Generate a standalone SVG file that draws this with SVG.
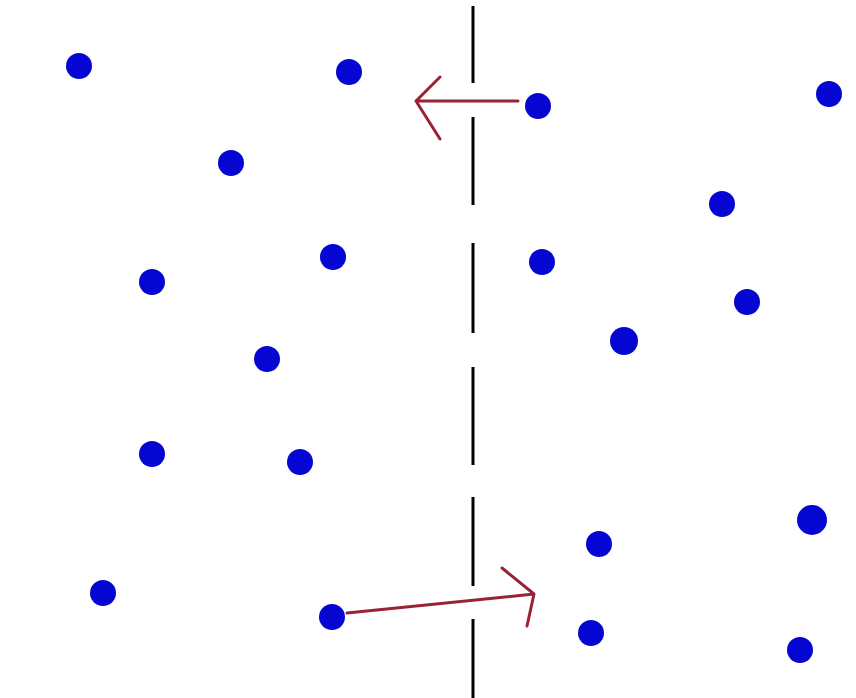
<svg xmlns="http://www.w3.org/2000/svg" width="856" height="698" viewBox="0 0 856 698">
<style>
.dot{fill:#0606d2}
.wall{stroke:#000;stroke-width:3;fill:none}
.arr{stroke:#9a2236;stroke-width:3;fill:none;stroke-linecap:round;stroke-linejoin:round}
</style>
<rect width="856" height="698" fill="#fff"/>
<g id="wall">
<line class="wall" x1="473" y1="6" x2="473" y2="83"/>
<line class="wall" x1="473" y1="117" x2="473" y2="205"/>
<line class="wall" x1="473" y1="243" x2="473" y2="333"/>
<line class="wall" x1="473" y1="367" x2="473" y2="465"/>
<line class="wall" x1="473" y1="497" x2="473" y2="586"/>
<line class="wall" x1="473" y1="619" x2="473" y2="698"/>
</g>
<g id="dots">
<circle id="d1" class="dot" cx="79" cy="66" r="13"/>
<circle id="d2" class="dot" cx="349" cy="72" r="13"/>
<circle id="d3" class="dot" cx="538" cy="106" r="13"/>
<circle id="d4" class="dot" cx="829" cy="94" r="13"/>
<circle id="d5" class="dot" cx="231" cy="163" r="13"/>
<circle id="d6" class="dot" cx="722" cy="204" r="13"/>
<circle id="d7" class="dot" cx="333" cy="257" r="13"/>
<circle id="d8" class="dot" cx="542" cy="262" r="13"/>
<circle id="d9" class="dot" cx="152" cy="282" r="13"/>
<circle id="d10" class="dot" cx="747" cy="302" r="13"/>
<circle id="d11" class="dot" cx="624" cy="341" r="14"/>
<circle id="d12" class="dot" cx="267" cy="359" r="13"/>
<circle id="d13" class="dot" cx="152" cy="454" r="13"/>
<circle id="d14" class="dot" cx="300" cy="462" r="13"/>
<circle id="d15" class="dot" cx="812" cy="520" r="15"/>
<circle id="d16" class="dot" cx="599" cy="544" r="13"/>
<circle id="d17" class="dot" cx="103" cy="593" r="13"/>
<circle id="d18" class="dot" cx="332" cy="617" r="13"/>
<circle id="d19" class="dot" cx="591" cy="633" r="13"/>
<circle id="d20" class="dot" cx="800" cy="650" r="13"/>
</g>
<g id="connectors">
<path class="arr" d="M518 101 L416 101 M440 77 L416 101 L440 139"/>
<path class="arr" d="M347 613 L534 594 M502 568 L534 594 L527 626"/>
</g>
</svg>
